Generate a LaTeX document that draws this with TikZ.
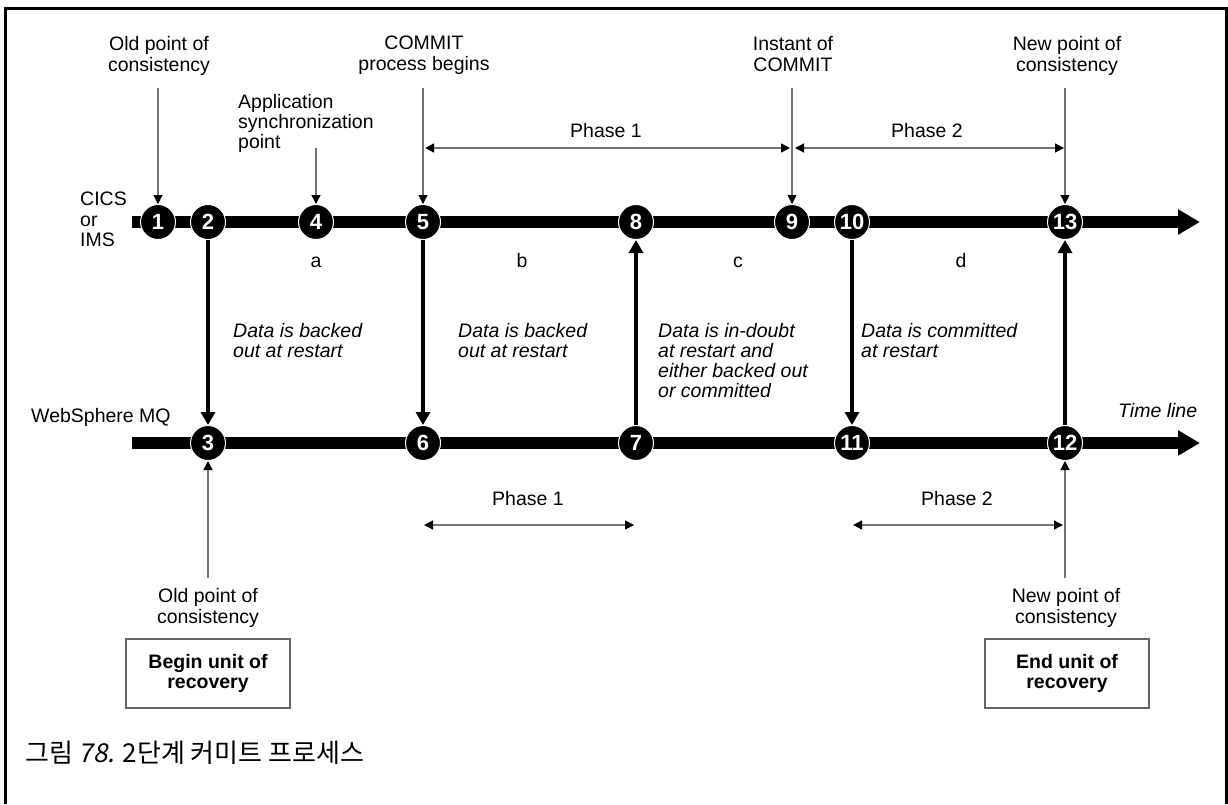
\documentclass[tikz,border=0pt]{standalone}
\usepackage{fontspec}
\setmainfont{Liberation Sans}
\newfontfamily\krfont[AutoFakeSlant=0.2]{Noto Sans CJK KR}
\usetikzlibrary{positioning, calc, arrows.meta}

\begin{document}
\begin{tikzpicture}[
  x=1pt, y=-1pt,
  font=\fontsize{19.5}{21}\selectfont,
  txt/.style       = {inner sep=0pt, align=center, anchor=north},
  lefttxt/.style   = {inner sep=0pt, align=left, anchor=north west},
  note/.style      = {lefttxt, font=\fontsize{19.5}{20}\selectfont\itshape},
  seg/.style       = {inner sep=0pt, anchor=base},
  point/.style     = {circle, fill=black, draw=white, line width=1pt,
                      minimum size=35pt, inner sep=0pt, text=white,
                      font=\fontsize{22}{22}\selectfont\bfseries},
  timeline/.style  = {line width=12pt, -{Triangle[length=22pt,width=24pt]}},
  sync/.style      = {line width=4.5pt, -{Triangle[length=13pt,width=14pt]}},
  pointer/.style   = {draw=black!55, line width=1.3pt,
                      -{Triangle[length=9pt,width=9pt,color=black]}},
  span/.style      = {draw=black!55, line width=1.3pt,
                      {Triangle[length=9pt,width=9pt,color=black]}-{Triangle[length=9pt,width=9pt,color=black]}},
  unit/.style      = {draw=black!60, line width=1.3pt, minimum width=164pt,
                      minimum height=69pt, align=center, inner sep=0pt,
                      font=\fontsize{19.5}{20}\selectfont\bfseries},
]
\useasboundingbox (0,0) rectangle (1228,804);

% frame, open at the bottom
\draw[line width=3pt] (5,804) -- (5,8) -- (1226,8) -- (1226,804);

% =============================================================
% Time lines
% =============================================================
\coordinate (cicsL) at (132,222);
\coordinate (cicsR) at (1200,222);
\coordinate (mqL)   at (132,443);
\coordinate (mqR)   at (1200,443);
\draw[timeline] (cicsL) -- (cicsR);
\draw[timeline] (mqL) -- (mqR);

\node[lefttxt, font=\fontsize{19.5}{20.5}\selectfont] (cics) at (80,192) {CICS\\or\\IMS};
\node[lefttxt] (mq) at (31,408) {WebSphere MQ};
\node[lefttxt, font=\fontsize{19.5}{20}\selectfont\itshape] (tline) at (1118,403) {Time line};

% --- points on the CICS/IMS line ---
\node[point] (p1)  at (158,222)  {1};
\node[point] (p2)  at (208,222)  {2};
\node[point] (p4)  at (316,222)  {4};
\node[point] (p5)  at (423,222)  {5};
\node[point] (p8)  at (636,222)  {8};
\node[point] (p9)  at (792,222)  {9};
\node[point] (p10) at (852,222)  {10};
\node[point] (p13) at (1065,222) {13};

% --- points on the WebSphere MQ line ---
\node[point] (p3)  at (208,443)  {3};
\node[point] (p6)  at (423,443)  {6};
\node[point] (p7)  at (636,443)  {7};
\node[point] (p11) at (852,443)  {11};
\node[point] (p12) at (1065,443) {12};

% --- flows between the two lines ---
\draw[sync] (p2) -- (p3);
\draw[sync] (p5) -- (p6);
\draw[sync] (p7) -- (p8);
\draw[sync] (p10) -- (p11);
\draw[sync] (p12) -- (p13);

% segment letters
\node[seg] (sa) at (316,267) {a};
\node[seg] (sb) at (522,267) {b};
\node[seg] (sc) at (738,267) {c};
\node[seg] (sd) at (961,267) {d};

% =============================================================
% Labels above
% =============================================================
\node[txt] (oldtop)  at (159,36)  {Old point of\\consistency};
\node[txt] (commit)  at (424,36)  {COMMIT\\process begins};
\node[txt] (instant) at (793,36)  {Instant of\\COMMIT};
\node[txt] (newtop)  at (1067,36) {New point of\\consistency};
\node[lefttxt, font=\fontsize{19.5}{20}\selectfont] (appsync) at (238,94)
  {Application\\synchronization\\point};

\coordinate (t1)  at (158,88);
\coordinate (t4)  at (316,148);
\coordinate (t5)  at (423,88);
\coordinate (t9)  at (792,88);
\coordinate (t13) at (1065,88);
\draw[pointer] (t1) -- (p1);
\draw[pointer] (t4) -- (p4);
\draw[pointer] (t5) -- (p5);
\draw[pointer] (t9) -- (p9);
\draw[pointer] (t13) -- (p13);

% phases above
\coordinate (ph1a) at (425,148);
\coordinate (ph1b) at (790,148);
\coordinate (ph2a) at (795,148);
\coordinate (ph2b) at (1064,148);
\draw[span] (ph1a) -- (ph1b);
\draw[span] (ph2a) -- (ph2b);
\node[seg] (ph1top) at (606,137) {Phase 1};
\node[seg] (ph2top) at (927,137) {Phase 2};

% =============================================================
% Notes between the lines
% =============================================================
\node[note] (n1) at (233,323) {Data is backed\\out at restart};
\node[note] (n2) at (458,323) {Data is backed\\out at restart};
\node[note] (n3) at (658,323) {Data is in-doubt\\at restart and\\either backed out\\or committed};
\node[note] (n4) at (861,323) {Data is committed\\at restart};

% =============================================================
% Below
% =============================================================
\coordinate (ph3a) at (424,525);
\coordinate (ph3b) at (634,525);
\coordinate (ph4a) at (853,525);
\coordinate (ph4b) at (1063,525);
\draw[span] (ph3a) -- (ph3b);
\draw[span] (ph4a) -- (ph4b);
\node[seg] (ph1bot) at (528,505) {Phase 1};
\node[seg] (ph2bot) at (957,505) {Phase 2};

\coordinate (b3)  at (208,578);
\coordinate (b12) at (1065,578);
\draw[pointer] (b3) -- (p3);
\draw[pointer] (b12) -- (p12);

\node[txt] (oldbot) at (208,588)  {Old point of\\consistency};
\node[txt] (newbot) at (1066,588) {New point of\\consistency};

\node[unit] (begin) at (208,673.5)  {Begin unit of\\recovery};
\node[unit] (end)   at (1067,673.5) {End unit of\\recovery};

% caption
\node[anchor=base west, inner sep=0pt, font=\krfont\fontsize{26}{26}\selectfont]
  (caption) at (25,762) {그림 \textit{78.} 2단계 커미트 프로세스};

\end{tikzpicture}
\end{document}
